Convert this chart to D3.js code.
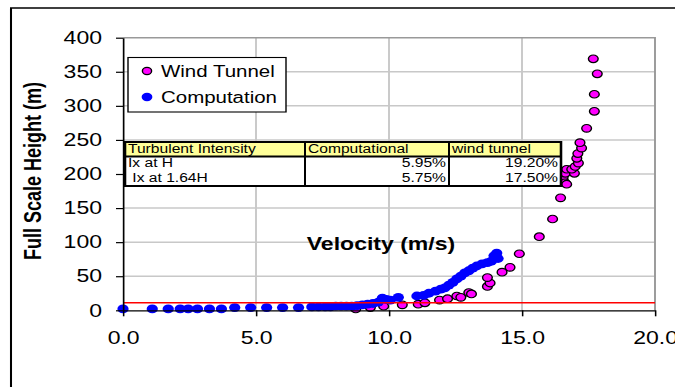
<!DOCTYPE html>
<html>
<head>
<meta charset="utf-8">
<script src="https://cdn.jsdelivr.net/npm/d3@7"></script>
<style>
  html, body { margin: 0; padding: 0; background: #fff; }
  svg { display: block; font-family: "Liberation Sans", Arial, sans-serif; }
</style>
</head>
<body>
<svg id="chart" width="675" height="387"></svg>
<script>
// Wind tunnel measurements: velocity (m/s) and full scale height (m)
const windTunnelVelocity = [8.75, 9.3, 9.8, 10.5, 11.1, 11.35, 11.9, 12.2, 12.55, 12.7, 13.0, 13.1,
  13.7, 13.8, 13.7, 14.25, 14.55, 14.9, 15.65, 16.15, 16.45, 16.55, 16.55, 16.62, 16.68, 16.63,
  16.97, 16.68, 16.87, 17.0, 17.12, 17.06, 17.1, 17.24, 17.18, 17.43, 17.72, 17.72, 17.83, 17.68];
const windTunnelHeight = [2, 4, 6, 8, 9, 11, 15, 17, 21, 19, 26, 24,
  35, 40, 48, 56, 63, 83, 108, 134, 165, 191, 196, 187, 185, 201,
  201, 207, 207, 211, 216, 223, 230, 238, 246, 267, 292, 317, 347, 369];

// Computed profile: velocity (m/s) and full scale height (m)
const computationVelocity = [0.0, 1.1, 1.7, 2.15, 2.45, 2.8, 3.25, 3.7, 4.2, 4.8, 5.4, 6.0, 6.6,
  7.1, 7.35, 7.6, 7.8, 8.0, 8.2, 8.4, 8.6, 8.8, 9.0, 9.2, 9.4, 9.6, 9.75, 9.9, 10.05, 10.35,
  11.05, 11.3, 11.5, 11.75, 11.95, 12.1, 12.25, 12.4, 12.55, 12.7, 12.85, 13.0, 13.15, 13.3,
  13.5, 13.7, 13.85, 13.95, 14.05, 14.1];
const computationHeight = [2, 2, 2, 2, 2, 2, 2, 2, 4, 4, 4, 4, 4,
  5, 5, 5, 5, 6, 6, 6, 6, 7, 8, 9, 10, 12, 18, 16, 15, 19,
  21, 22, 25, 28, 31, 33, 37, 41, 46, 50, 55, 58, 62, 65,
  68, 70, 72, 80, 84, 76];

// Reference height H marked across the plot
const referenceHeight = 11;

// Axis ticks
const xTicks = [0, 5, 10, 15, 20];
const yTicks = [0, 50, 100, 150, 200, 250, 300, 350, 400];

// Turbulence intensity table
const tableHeader = ["Turbulent Intensity", "Computational", "wind tunnel"];
const tableRowLabels = ["Ix at H", " Ix at 1.64H"];
const tableComputational = ["5.95%", "5.75%"];
const tableWindTunnel = ["19.20%", "17.50%"];

// The whole drawing is widened horizontally by SX; layout numbers are in screen pixels
const SX = 1.28;
const L = v => v / SX;

const svg = d3.select("#chart");
const g = svg.append("g").attr("transform", `scale(${SX},1)`);

const plot = { left: 123, right: 655, top: 37.7, bottom: 310.3 };
const x = d3.scaleLinear().domain([0, 20]).range([L(plot.left), L(plot.right)]);
const y = d3.scaleLinear().domain([0, 400]).range([plot.bottom, plot.top]);

// Chart frame
g.append("path")
  .attr("d", `M${L(11)},395 L${L(11)},8 L${L(690)},8`)
  .attr("fill", "none").attr("stroke", "#000").attr("stroke-width", 1.6);

// Plot area
g.append("rect")
  .attr("x", x(0)).attr("y", y(400))
  .attr("width", x(20) - x(0)).attr("height", y(0) - y(400))
  .attr("fill", "#fff");

// Gridlines
g.append("g").selectAll("line").data(yTicks.filter(d => d > 0 && d < 400)).join("line")
  .attr("x1", x(0)).attr("x2", x(20)).attr("y1", d => y(d)).attr("y2", d => y(d))
  .attr("stroke", "#c8c8c8").attr("stroke-width", 1.5);
g.append("g").selectAll("line").data(xTicks.filter(d => d > 0 && d < 20)).join("line")
  .attr("x1", d => x(d)).attr("x2", d => x(d)).attr("y1", y(0)).attr("y2", y(400))
  .attr("stroke", "#c8c8c8").attr("stroke-width", 1.5);
// Plot area border (top and right)
g.append("path")
  .attr("d", `M${x(0)},${y(400)} L${x(20)},${y(400)} L${x(20)},${y(0)}`)
  .attr("fill", "none").attr("stroke", "#999").attr("stroke-width", 1.5);

// Wind tunnel points
g.append("g").selectAll("circle").data(windTunnelVelocity).join("circle")
  .attr("cx", d => x(d))
  .attr("cy", (d, i) => y(windTunnelHeight[i]))
  .attr("r", 3.8)
  .attr("fill", "#ff00ff").attr("stroke", "#000").attr("stroke-width", 1.1);

// Computation points
g.append("g").selectAll("circle").data(computationVelocity).join("circle")
  .attr("cx", d => x(d))
  .attr("cy", (d, i) => y(computationHeight[i]))
  .attr("r", 4.4)
  .attr("fill", "#0000ff");

// Reference height line
g.append("line")
  .attr("x1", x(0)).attr("x2", x(20))
  .attr("y1", y(referenceHeight)).attr("y2", y(referenceHeight))
  .attr("stroke", "#ff0000").attr("stroke-width", 1.5);

// Axes
const xAxis = g.append("g").attr("transform", `translate(0,${y(0)})`)
  .call(d3.axisBottom(x).tickValues(xTicks).tickFormat(d3.format(".1f"))
    .tickSizeInner(6).tickSizeOuter(0).tickPadding(15));
const yAxis = g.append("g").attr("transform", `translate(${x(0)},0)`)
  .call(d3.axisLeft(y).tickValues(yTicks).tickFormat(d3.format("d"))
    .tickSizeInner(L(7)).tickSizeOuter(0).tickPadding(L(14)));
[xAxis, yAxis].forEach(a => {
  a.selectAll("path.domain").attr("stroke", "#000").attr("stroke-width", 1.3);
  a.selectAll(".tick line").attr("stroke", "#000").attr("stroke-width", 1.2);
  a.selectAll(".tick text").attr("fill", "#000")
    .attr("font-size", 18).attr("font-family", "Liberation Sans, Arial, sans-serif");
});

// Axis titles
g.append("text")
  .attr("x", L(381)).attr("y", 250)
  .attr("text-anchor", "middle")
  .attr("font-size", 18).attr("font-weight", "bold")
  .text("Velocity (m/s)");
g.append("text")
  .attr("transform", `translate(${L(41)},171) rotate(-90)`)
  .attr("text-anchor", "middle")
  .attr("font-size", 18).attr("font-weight", "bold")
  .text("Full Scale Height (m)");

// Legend
const legend = g.append("g");
legend.append("rect")
  .attr("x", L(128)).attr("y", 57.5)
  .attr("width", L(286) - L(128)).attr("height", 54.5)
  .attr("fill", "#fff").attr("stroke", "#000").attr("stroke-width", 1.1);
const legendItems = [
  { label: "Wind Tunnel", fill: "#ff00ff", stroke: "#000", r: 3.6 },
  { label: "Computation", fill: "#0000ff", stroke: "none", r: 4.2 }
];
legendItems.forEach((item, i) => {
  const cy = 71 + i * 26;
  legend.append("circle")
    .attr("cx", L(147)).attr("cy", cy).attr("r", item.r)
    .attr("fill", item.fill).attr("stroke", item.stroke).attr("stroke-width", 1.1);
  legend.append("text")
    .attr("x", L(161)).attr("y", cy + 6)
    .attr("font-size", 16).attr("fill", "#000")
    .text(item.label);
});

// Turbulence intensity table
const colX = [125, 305, 449, 561];
const rowY = [142, 156.5, 171, 186];
const tableFont = 12.2;
const table = g.append("g");
table.append("rect")
  .attr("x", L(colX[0])).attr("y", rowY[0])
  .attr("width", L(colX[3]) - L(colX[0])).attr("height", rowY[3] - rowY[0])
  .attr("fill", "#fff");
table.append("rect")
  .attr("x", L(colX[0])).attr("y", rowY[0])
  .attr("width", L(colX[3]) - L(colX[0])).attr("height", rowY[1] - rowY[0])
  .attr("fill", "#ffff99");
tableHeader.forEach((h, j) => {
  table.append("text")
    .attr("x", L(colX[j] + 3)).attr("y", rowY[1] - 3.5)
    .attr("font-size", tableFont).attr("fill", "#000")
    .text(h);
});
tableRowLabels.forEach((lab, i) => {
  const by = rowY[i + 1] + 11;
  table.append("text")
    .attr("x", L(colX[0] + 3)).attr("y", by)
    .attr("font-size", tableFont).attr("fill", "#000")
    .style("white-space", "pre")
    .text(lab);
  table.append("text")
    .attr("x", L(colX[2] - 3)).attr("y", by)
    .attr("text-anchor", "end")
    .attr("font-size", tableFont).attr("fill", "#000")
    .text(tableComputational[i]);
  table.append("text")
    .attr("x", L(colX[3] - 3)).attr("y", by)
    .attr("text-anchor", "end")
    .attr("font-size", tableFont).attr("fill", "#000")
    .text(tableWindTunnel[i]);
});
// Table rules
table.append("rect")
  .attr("x", L(colX[0])).attr("y", rowY[0])
  .attr("width", L(colX[3]) - L(colX[0])).attr("height", rowY[3] - rowY[0])
  .attr("fill", "none").attr("stroke", "#000").attr("stroke-width", 2);
table.append("line")
  .attr("x1", L(colX[0])).attr("x2", L(colX[3]))
  .attr("y1", rowY[1]).attr("y2", rowY[1])
  .attr("stroke", "#000").attr("stroke-width", 2);
[colX[1], colX[2]].forEach(cx => {
  table.append("line")
    .attr("x1", L(cx)).attr("x2", L(cx))
    .attr("y1", rowY[0]).attr("y2", rowY[3])
    .attr("stroke", "#000").attr("stroke-width", 1.6);
});
</script>
</body>
</html>
